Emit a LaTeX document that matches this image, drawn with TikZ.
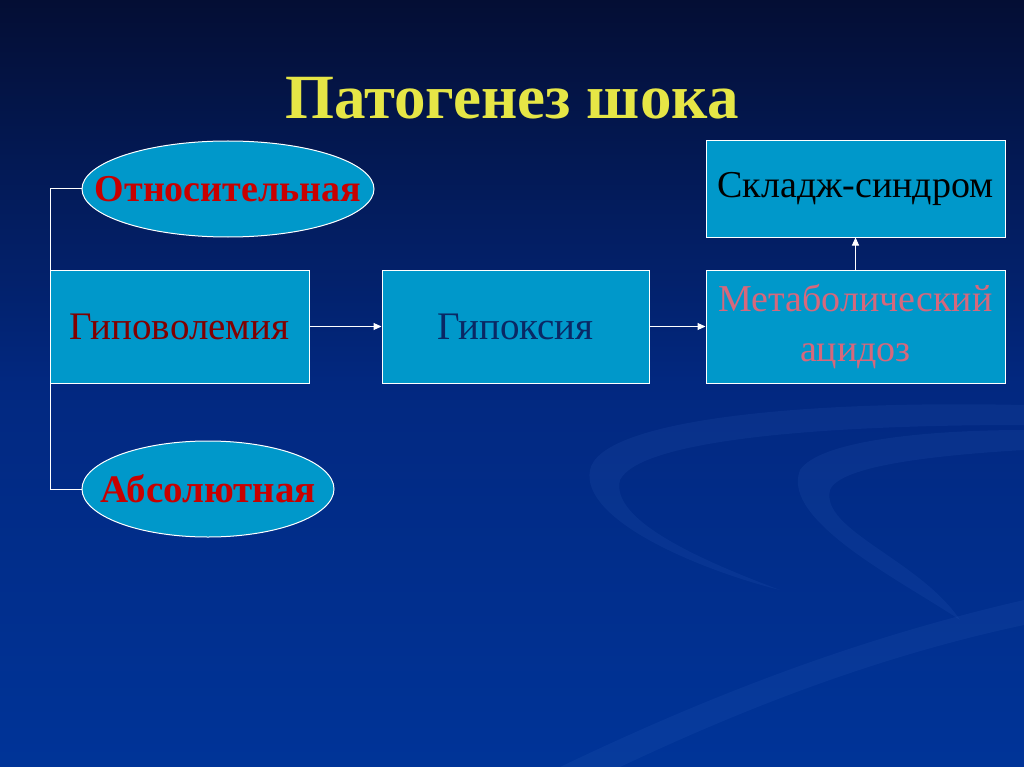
\documentclass[tikz,border=0pt]{standalone}
\usepackage{fontspec}
\setmainfont{Liberation Serif}
\usetikzlibrary{shapes.geometric,arrows.meta}
\definecolor{bgtop}{RGB}{4,14,52}
\definecolor{bgmid}{RGB}{2,40,128}
\definecolor{bgbot}{RGB}{0,52,152}
\definecolor{boxfill}{RGB}{0,152,202}
\definecolor{titlecol}{RGB}{230,230,70}
\definecolor{redtext}{RGB}{200,0,0}
\definecolor{darkred}{RGB}{130,0,0}
\definecolor{darkblue}{RGB}{10,40,100}
\definecolor{pinktext}{RGB}{214,104,124}
\definecolor{swirl}{RGB}{60,110,200}
\tikzset{
  boxnode/.style={draw=white, line width=1pt, fill=boxfill, minimum height=113pt, inner sep=0pt, align=center},
  ellnode/.style={ellipse, draw=white, line width=1pt, fill=boxfill, minimum height=96pt, inner xsep=-70pt, inner ysep=0pt},
  conn/.style={draw=white, line width=1pt},
  arr/.style={conn, -{Triangle[length=8pt,width=7pt]}},
  bigtxt/.style={font=\fontsize{39}{50}\selectfont},
}
\begin{document}
\begin{tikzpicture}[x=1pt,y=-1pt]
\useasboundingbox (0,0) rectangle (1024,767);
\shade[top color=bgtop, bottom color=bgbot, middle color=bgmid] (0,0) rectangle (1024,767);
% decorative swirls
\begin{scope}[opacity=0.12]
\fill[swirl] (590,470) .. controls (600,420) and (800,400) .. (1024,405) -- (1024,425) .. controls (820,425) and (640,440) .. (620,480) .. controls (610,520) and (700,560) .. (780,590) .. controls (700,570) and (580,520) .. (590,470) -- cycle;
\fill[swirl] (800,470) .. controls (820,440) and (930,430) .. (1024,430) -- (1024,450) .. controls (940,455) and (840,465) .. (830,490) .. controls (820,530) and (920,560) .. (960,620) .. controls (900,580) and (780,520) .. (800,470) -- cycle;
\fill[swirl] (560,767) .. controls (700,700) and (850,640) .. (1024,600) -- (1024,625) .. controls (860,660) and (720,720) .. (620,767) -- cycle;
\end{scope}
\node[font=\fontsize{63}{70}\bfseries\selectfont, text=titlecol] (title) at (512,98) {Патогенез шока};
\node[boxnode, minimum width=259pt, bigtxt, text=darkred] (hypovol) at (179.5,326.5) {Гиповолемия};
\node[boxnode, minimum width=267pt, bigtxt, text=darkblue] (hypox) at (515.5,326.5) {Гипоксия};
\node[boxnode, minimum width=299pt, font=\fontsize{38}{50}\selectfont, text=pinktext] (acid) at (855.5,326.5) {Метаболический\\ацидоз};
\node[boxnode, minimum width=299pt, minimum height=96pt, font=\fontsize{38}{46}\selectfont, text=black] (sludge) at (855.5,189) {Складж-синдром};
\node[ellnode, minimum width=292pt, font=\fontsize{38}{46}\bfseries\selectfont, text=redtext] (rel) at (228,189) {Относительная};
\node[ellnode, minimum width=252pt, font=\fontsize{39}{46}\bfseries\selectfont, text=redtext] (abs) at (208,489) {Абсолютная};
\coordinate (ltop) at (50,189);
\coordinate (lbot) at (50,489);
\draw[conn] (rel.west) -- (ltop) -- (lbot) -- (abs.west);
\draw[arr] (hypovol.east) -- (hypox.west);
\draw[arr] (hypox.east) -- (acid.west);
\draw[arr] (acid.north) -- (sludge.south);
\end{tikzpicture}
\end{document}
